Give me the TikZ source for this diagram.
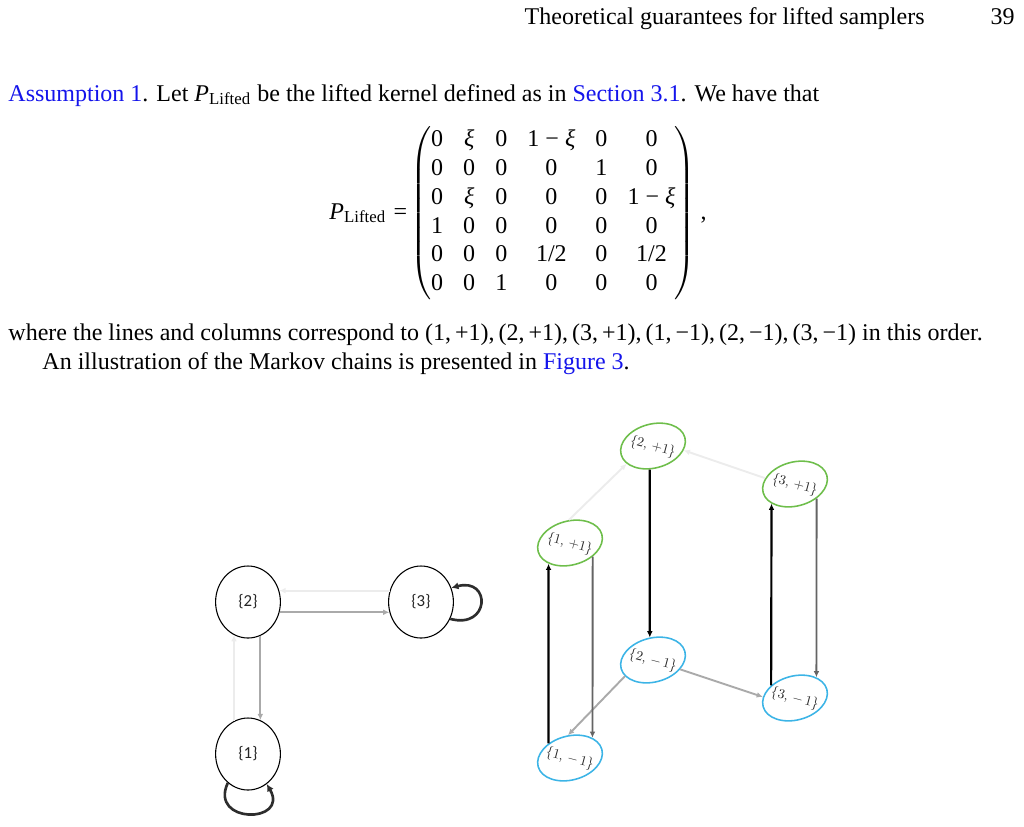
\documentclass[tikz,border=0pt]{standalone}
\usepackage{fontspec}
\newfontfamily\pagefont{Liberation Serif}
\newfontfamily\carlito{Carlito}
\usetikzlibrary{arrows.meta}
\usetikzlibrary{shapes.geometric}

\definecolor{linkblue}{RGB}{20,20,235}
\definecolor{upgreen}{RGB}{110,190,75}
\definecolor{downblue}{RGB}{60,180,230}
\definecolor{ghostgray}{RGB}{236,236,236}
\definecolor{midgray}{RGB}{170,170,170}
\definecolor{deepgray}{RGB}{100,100,100}
\definecolor{loopgray}{RGB}{45,45,45}

% texte incline dans les ellipses, sans prendre de place
\newcommand{\tiltlabel}[1]{\rotatebox{-30}{\makebox[0pt]{\raisebox{-0.4ex}[0pt][0pt]{\scalebox{0.57}{#1}}}}}

\tikzset{
	pagetext/.style={font=\pagefont\fontsize{10}{12}\selectfont, inner sep=0pt},
	state/.style={draw=black, line width=0.45pt, ellipse, minimum width=27pt, minimum height=30pt, inner sep=0pt, font=\carlito\fontsize{7}{8}\selectfont, text=black!85},
	lifted/.style={ellipse, line width=0.65pt, minimum width=27.5pt, minimum height=18.3pt, inner sep=0pt, rotate=15, font=\fontsize{10}{12}\selectfont, text=black!85},
	plus/.style={lifted, draw=upgreen},
	minus/.style={lifted, draw=downblue},
	tip/.style={-{Latex[length=2.6pt,width=2.4pt]}},
	ghost/.style={tip, draw=ghostgray, line width=0.8pt},
	soft/.style={tip, draw=midgray, line width=0.8pt},
	hard/.style={tip, draw=deepgray, line width=0.8pt},
	strong/.style={tip, draw=black, line width=0.9pt},
	selfloop/.style={-{Latex[length=3pt,width=3pt]}, draw=loopgray, line width=1.1pt}
}

\begin{document}
\begin{tikzpicture}[x=0.41667pt, y=-0.41667pt]

	\useasboundingbox (0,0) rectangle (1024,826);

	% page text
	\node[pagetext, anchor=base east] (title) at (925,24) {Theoretical guarantees for lifted samplers};
	\node[pagetext, anchor=base east] (pagenum) at (1015,24) {39};

	\node[pagetext, anchor=base west] (assume) at (8,101) {\textcolor{linkblue}{Assumption 1}. Let \textit{P}\textsubscript{Lifted} be the lifted kernel defined as in \textcolor{linkblue}{Section 3.1}. We have that};

	\node[pagetext, anchor=west] (kernel) at (329,213) {\setlength{\tabcolsep}{4.2pt}\textit{P}\textsubscript{Lifted}\hspace{3pt}=\hspace{1.5pt}$\left(\kern-0.3pt\begin{tabular}{@{}cccccc@{}}
		0 & \textit{ξ} & 0 & 1 − \textit{ξ} & 0 & 0\\
		0 & 0 & 0 & 0 & 1 & 0\\
		0 & \textit{ξ} & 0 & 0 & 0 & 1 − \textit{ξ}\\
		1 & 0 & 0 & 0 & 0 & 0\\
		0 & 0 & 0 & 1/2 & 0 & 1/2\\
		0 & 0 & 1 & 0 & 0 & 0
	\end{tabular}\kern-0.3pt\right)$\hspace{0.2em},};

	\node[pagetext, anchor=base west] (order) at (8,340) {where the lines and columns correspond to (1,\,+1),\,(2,\,+1),\,(3,\,+1),\,(1,\,−1),\,(2,\,−1),\,(3,\,−1) in this order.};
	\node[pagetext, anchor=base west] (illus) at (42,369) {An illustration of the Markov chains is presented in \textcolor{linkblue}{Figure 3}.};

	% chaine de base
	\node[state] (s2) at (248,602) {\{2\}};
	\node[state] (s3) at (421,602) {\{3\}};
	\node[state] (s1) at (248,754) {\{1\}};

	\draw[ghost] (s3.160) -- (s2.20);
	\draw[soft] (s2.-18) -- (s3.198);
	\draw[soft] (s2.-70) -- (s1.70);
	\draw[ghost] (s1.113) -- (s2.247);

	\draw[selfloop] (s3.-30) to[out=-15, in=15, looseness=3.4] (s3.25);
	\draw[selfloop] (s1.-125) to[out=-115, in=-60, looseness=3] (s1.-58);

	% chaine relevee
	\node[plus] (up1) at (570,543) {\tiltlabel{\{1, $+$1\}}};
	\node[plus] (up2) at (653,446) {\tiltlabel{\{2, $+$1\}}};
	\node[plus] (up3) at (795,484) {\tiltlabel{\{3, $+$1\}}};
	\node[minus] (dn1) at (570,758) {\tiltlabel{\{1, $-$\,1\}}};
	\node[minus] (dn2) at (653,660) {\tiltlabel{\{2, $-$\,1\}}};
	\node[minus] (dn3) at (795,698) {\tiltlabel{\{3, $-$\,1\}}};

	\draw[ghost] (up1.78) -- (up2.199);
	\draw[ghost] (up3.154) -- (up2.-23);
	\draw[soft] (dn2.-34) -- (dn3.163);
	\draw[soft] (dn2.195) -- (dn1.80);

	\draw[strong] (dn1.131) -- (up1.209);
	\draw[hard] (up1.314) -- (dn1.27);
	\draw[strong] (up2.247) -- (dn2.83);
	\draw[strong] (dn3.137) -- (up3.205);
	\draw[hard] (up3.311) -- (dn3.29);

\end{tikzpicture}
\end{document}
